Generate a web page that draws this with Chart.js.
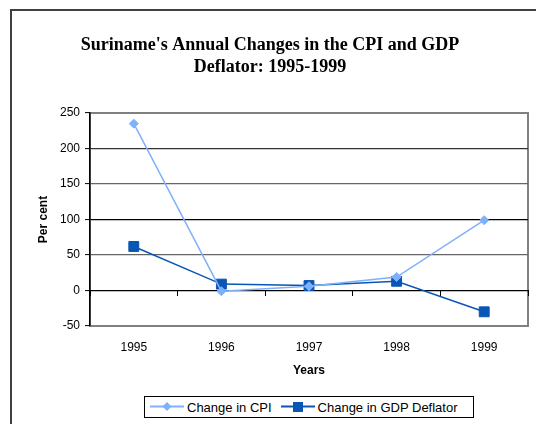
<!DOCTYPE html>
<html>
<head>
<meta charset="utf-8">
<script src="https://cdn.jsdelivr.net/npm/chart.js@4/dist/chart.umd.min.js"></script>
<style>
  html, body { margin: 0; padding: 0; background: #fff; }
  #wrap { position: relative; width: 536px; height: 424px; overflow: hidden; }
  #frame { position: absolute; left: 10px; top: 9px; width: 600px; height: 500px;
           border-left: 2px solid #404040; border-top: 2px solid #404040; box-sizing: border-box; }
  canvas { position: absolute; left: 0; top: 0; }
  #legend { position: absolute; left: 144px; top: 396px; width: 330px; height: 22px;
            border: 1px solid #000; box-sizing: border-box; display: flex; align-items: center;
            font: 13px "Liberation Sans", Arial, sans-serif; color: #000; white-space: nowrap; background:#fff; }
  .item { display: flex; align-items: center; }
  .item svg { margin-right: 3px; }
  #i1 { margin-left: 5px; }
  #i2 { margin-left: 9px; }
</style>
</head>
<body>
<div id="wrap">
  <div id="frame"></div>
  <canvas id="c" width="536" height="424"></canvas>
  <div id="legend"></div>
</div>
<script>
const titleLines = ["Suriname's Annual Changes in the CPI and GDP", "Deflator: 1995-1999"];
const years = ['1995', '1996', '1997', '1998', '1999'];
const cpiChange = [235, -1, 6, 19, 99];
const gdpDeflatorChange = [62, 9, 7, 13, -30];
const seriesNames = ['Change in CPI', 'Change in GDP Deflator'];
const yMin = -50, yMax = 250, yStep = 50;

const cpiColor = '#7fb1fb';
const gdpColor = '#0a56b4';

const framePlugin = {
  id: 'frame',
  beforeDraw(chart) {
    const a = chart.chartArea, ctx = chart.ctx;
    ctx.save();
    ctx.strokeStyle = '#808080';
    ctx.lineWidth = 2;
    ctx.strokeRect(a.left, a.top, a.right - a.left, a.bottom - a.top);
    ctx.restore();
  }
};

const gridColors = { '250': '#808080', '200': '#333333', '150': '#666666', '100': '#000000', '50': '#666666', '0': '#000000', '-50': '#808080' };

new Chart(document.getElementById('c'), {
  type: 'line',
  data: {
    labels: years,
    datasets: [
      { label: seriesNames[0], data: cpiChange, borderColor: cpiColor, backgroundColor: cpiColor,
        borderWidth: 1.5, pointStyle: 'rectRot', pointRadius: 4.5, pointBorderWidth: 1,
        pointBackgroundColor: cpiColor, pointBorderColor: cpiColor, tension: 0, xAxisID: 'x' },
      { label: seriesNames[1], data: gdpDeflatorChange, borderColor: gdpColor, backgroundColor: gdpColor,
        borderWidth: 1.5, pointStyle: 'rect', pointRadius: 7, pointBorderWidth: 1,
        pointBackgroundColor: gdpColor, pointBorderColor: gdpColor, tension: 0, xAxisID: 'x' }
    ]
  },
  options: {
    responsive: false,
    animation: false,
    events: [],
    layout: { padding: { left: 12, right: 8, top: 34, bottom: 46 } },
    plugins: {
      legend: { display: false },
      tooltip: { enabled: false },
      title: {
        display: true,
        text: titleLines,
        color: '#000',
        font: { family: '"Liberation Serif", "Times New Roman", serif', size: 18, weight: 'bold', lineHeight: 1.25 },
        padding: { top: 0, bottom: 34 }
      }
    },
    scales: {
      x: {
        type: 'category',
        position: 'bottom',
        offset: true,
        grid: { display: false, drawTicks: false },
        border: { display: false },
        ticks: { color: '#000', padding: 14, maxRotation: 0,
                 font: { family: '"Liberation Sans", Arial, sans-serif', size: 12 } },
        title: { display: true, text: 'Years', color: '#000', padding: { top: 10, bottom: 0 },
                 font: { family: '"Liberation Sans", Arial, sans-serif', size: 12, weight: 'bold' } },
        afterFit(s) { s.height = 52; }
      },
      x0: {
        type: 'category',
        labels: years,
        position: { y: 0 },
        offset: true,
        grid: { drawOnChartArea: false, drawTicks: true, tickLength: 5, color: '#000', offset: true },
        border: { display: true, color: '#000', width: 1 },
        ticks: { display: false }
      },
      y: {
        min: yMin, max: yMax,
        ticks: { stepSize: yStep, color: '#000', padding: 5,
                 font: { family: '"Liberation Sans", Arial, sans-serif', size: 12 } },
        grid: { drawTicks: true, tickLength: 5, tickColor: '#000', tickWidth: 1, lineWidth: 1.2,
                color: ctx => gridColors[String(ctx.tick ? ctx.tick.value : '')] || '#555' },
        border: { display: true, color: '#000', width: 1.5 },
        title: { display: true, text: 'Per cent', color: '#000', padding: { top: 24, bottom: 0 },
                 font: { family: '"Liberation Sans", Arial, sans-serif', size: 12, weight: 'bold' } },
        afterFit(s) { s.width = 78; }
      }
    }
  },
  plugins: [framePlugin]
});

function markerSvg(color, shape) {
  const m = shape === 'diamond'
    ? `<polygon points="17,1 21.5,5.5 17,10 12.5,5.5" fill="${color}"/>`
    : `<rect x="12" y="1" width="10" height="10" fill="${color}"/>`;
  return `<svg width="34" height="12" viewBox="0 0 34 12"><line x1="0" y1="5.5" x2="34" y2="5.5" stroke="${color}" stroke-width="2"/>${m}</svg>`;
}
document.getElementById('legend').innerHTML =
  `<span class="item" id="i1">${markerSvg(cpiColor, 'diamond')}<span>${seriesNames[0]}</span></span>` +
  `<span class="item" id="i2">${markerSvg(gdpColor, 'square')}<span>${seriesNames[1]}</span></span>`;
</script>
</body>
</html>
